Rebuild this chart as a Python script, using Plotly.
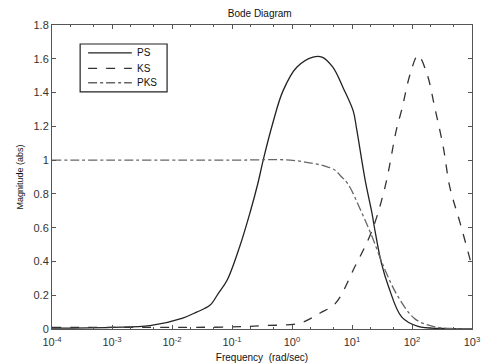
import plotly.graph_objects as go

# Data (frequency in rad/sec, magnitude abs)
ps_freq = [1e-4, 1e-3, 4.3e-3, 0.0151, 0.0257, 0.0427, 0.0589, 0.0832, 0.135, 0.2, 0.269,
           0.331, 0.479, 0.708, 1.2, 2.24, 3.16, 4.79, 7.08, 10.5, 12.0, 16.6, 21.4,
           24.5, 30.9, 40.7, 67.6, 126, 316, 1000]
ps_mag = [0.005, 0.01, 0.02, 0.065, 0.10, 0.14, 0.21, 0.29, 0.49, 0.69, 0.86,
          1.0, 1.22, 1.41, 1.55, 1.61, 1.61, 1.55, 1.43, 1.29, 1.18, 0.88, 0.69,
          0.57, 0.39, 0.25, 0.07, 0.015, 0.003, 0.0]

ks_freq = [1e-4, 1e-2, 0.1, 0.316, 1.35, 2.95, 5.25, 11.2, 21.4, 35.5, 55.0,
           67.6, 93.3, 126, 178, 240, 331, 427, 631, 1000]
ks_mag = [0.01, 0.01, 0.012, 0.02, 0.035, 0.095, 0.15, 0.37, 0.58, 0.84, 1.18,
          1.30, 1.51, 1.62, 1.51, 1.31, 1.08, 0.84, 0.63, 0.37]

pks_freq = [1e-4, 0.1, 0.933, 2.24, 3.55, 5.25, 6.31, 8.51, 14.5, 21.4, 35.5, 58.9,
            112, 224, 501, 1000]
pks_mag = [1.0, 1.0, 1.0, 0.98, 0.965, 0.94, 0.91, 0.86, 0.69, 0.55, 0.35, 0.19,
           0.06, 0.015, 0.002, 0.0]

series_names = ["PS", "KS", "PKS"]
series_dash = ["solid", "dash", "dashdot"]
series_color = ["#222222", "#333333", "#666666"]

x_tickvals = [1e-4, 1e-3, 1e-2, 1e-1, 1e0, 1e1, 1e2, 1e3]
x_ticktext = ["10<sup>-4</sup>", "10<sup>-3</sup>", "10<sup>-2</sup>", "10<sup>-1</sup>",
              "10<sup>0</sup>", "10<sup>1</sup>", "10<sup>2</sup>", "10<sup>3</sup>"]

fig = go.Figure()
for name, xs, ys, dash, col in zip(series_names, [ps_freq, ks_freq, pks_freq],
                                   [ps_mag, ks_mag, pks_mag], series_dash, series_color):
    fig.add_trace(go.Scatter(x=xs, y=ys, name=name, mode="lines", showlegend=False,
                             line=dict(color=col, width=1.3, shape="spline", dash=dash)))

fnt = "Liberation Sans, Arial, sans-serif"

# Compact MATLAB-style legend drawn in paper coordinates
fig.add_shape(type="rect", xref="paper", yref="paper", x0=0.067, x1=0.274, y0=0.78, y1=0.9375,
              line=dict(color="#222222", width=1.2), fillcolor="white", layer="above")
leg_y = [0.908, 0.857, 0.81]
for name, dash, col, yy in zip(series_names, series_dash, series_color, leg_y):
    fig.add_shape(type="line", xref="paper", yref="paper", x0=0.086, x1=0.19, y0=yy, y1=yy,
                  line=dict(color=col, width=1.3, dash=dash), layer="above")
    fig.add_annotation(xref="paper", yref="paper", x=0.197, y=yy, text=name, showarrow=False,
                       xanchor="left", yanchor="middle", font=dict(size=10, color="#111111", family=fnt))

fig.update_layout(
    width=481, height=364,
    margin=dict(l=52, r=9, t=25, b=35, autoexpand=False),
    paper_bgcolor="white", plot_bgcolor="white",
    font=dict(family=fnt, size=11, color="#333333"),
    title=dict(text="Bode Diagram", x=0.54, xanchor="center", y=0.962, yanchor="middle",
               font=dict(size=10, color="#111111", family=fnt), automargin=False),
    showlegend=False,
)
fig.update_xaxes(type="log", range=[-4, 3], tickvals=x_tickvals, ticktext=x_ticktext,
                 automargin=False,
                 showgrid=False, zeroline=False, showline=True, linecolor="#555555",
                 linewidth=1, mirror="ticks", ticks="inside", ticklen=4, tickcolor="#555555",
                 minor=dict(ticks="inside", ticklen=2, tickcolor="#555555", showgrid=False),
                 tickfont=dict(size=11, color="#333333"), ticklabelstandoff=3,
                 title=dict(text="Frequency  (rad/sec)", font=dict(size=10, color="#111111"), standoff=6))
fig.update_yaxes(range=[0, 1.8], dtick=0.2, tick0=0, automargin=False,
                 showgrid=False, zeroline=False, showline=True, linecolor="#555555",
                 linewidth=1, mirror="ticks", ticks="inside", ticklen=4, tickcolor="#555555",
                 tickfont=dict(size=11, color="#333333"),
                 title=dict(text="Magnitude (abs)", font=dict(size=9, color="#111111"), standoff=8))

fig.write_html("out.html", config={"displayModeBar": False},
               post_script="document.body.style.margin='0';document.body.style.overflow='hidden';")
